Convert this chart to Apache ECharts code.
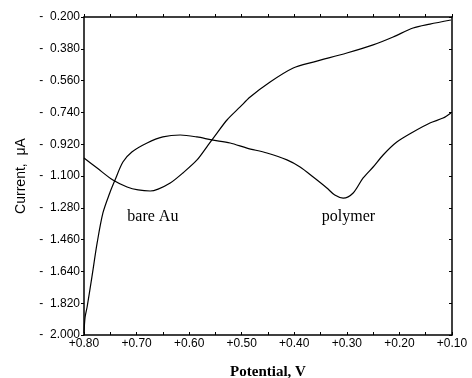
<!DOCTYPE html>
<html lang="en">
  <head>
    <meta charset="UTF-8" />
    <title>Current vs Potential</title>
    <style>
      html, body { margin: 0; padding: 0; background: #fff; }
    </style>
  </head>
  <body>
    <div id="main" style="width: 472px; height: 378px"></div>
    <script src="https://cdn.jsdelivr.net/npm/echarts@6/dist/echarts.min.js"></script>
    <script>
      // polymer trace (starts at -2.0 at +0.80 V, dip near +0.30 V)
      const polymerX = [0.800, 0.798, 0.794, 0.785, 0.775, 0.764, 0.751, 0.741, 0.726, 0.709, 0.680, 0.650, 0.617,
        0.585, 0.557, 0.522, 0.490, 0.452, 0.414, 0.389, 0.364, 0.338, 0.323, 0.307, 0.288, 0.269, 0.250,
        0.231, 0.205, 0.174, 0.142, 0.117, 0.102];
      const polymerY = [-1.99, -1.90, -1.84, -1.672, -1.479, -1.309, -1.196, -1.123, -1.021, -0.964, -0.913, -0.879, -0.868,
        -0.879, -0.896, -0.913, -0.942, -0.970, -1.009, -1.049, -1.106, -1.168, -1.208, -1.225, -1.196, -1.111, -1.049,
        -0.981, -0.908, -0.851, -0.800, -0.772, -0.743];

      // bare Au trace (dip near +0.67 V)
      const bareX = [0.800, 0.775, 0.745, 0.718, 0.697, 0.674, 0.659, 0.636, 0.612, 0.585, 0.564, 0.547, 0.528,
        0.503, 0.484, 0.446, 0.402, 0.364, 0.300, 0.250, 0.212, 0.174, 0.142, 0.102];
      const bareY = [-0.998, -1.055, -1.123, -1.162, -1.179, -1.185, -1.174, -1.140, -1.083, -1.009, -0.925, -0.857, -0.783,
        -0.709, -0.653, -0.568, -0.489, -0.455, -0.404, -0.358, -0.313, -0.262, -0.240, -0.217];

      const yTicks = [-2.0, -1.82, -1.64, -1.46, -1.28, -1.1, -0.92, -0.74, -0.56, -0.38, -0.2];
      const labelPos = { bare: [0.669, -1.33], polymer: [0.297, -1.33] };

      const zip = (xs, ys) => xs.map((x, i) => [x, ys[i]]);

      var chart = echarts.init(document.getElementById("main"));
      const axisLine = { show: true, lineStyle: { color: "#000", width: 1.5 } };
      const tickFont = { color: "#000", fontFamily: "Liberation Sans", fontSize: 12 };
      const noteStyle = { show: true, color: "#000", fontFamily: "Liberation Serif", fontSize: 16 };

      chart.setOption({
        animation: false,
        grid: { left: 84, right: 20, top: 17, bottom: 43, containLabel: false, outerBoundsMode: "none" },
        xAxis: [
          {
            type: "value",
            min: 0.1,
            max: 0.8,
            interval: 0.1,
            inverse: true,
            name: "Potential, V",
            nameLocation: "middle",
            nameGap: 30,
            nameTextStyle: { fontFamily: "Liberation Serif", fontWeight: "bold", fontSize: 15, color: "#000" },
            axisLine: axisLine,
            axisTick: { show: true, inside: true, length: 3, lineStyle: { color: "#000" } },
            minorTick: { show: true, splitNumber: 2, length: 3, lineStyle: { color: "#000" } },
            axisLabel: Object.assign({ margin: 3, formatter: (v) => "+" + v.toFixed(2) }, tickFont),
            splitLine: { show: false },
          },
          {
            type: "value",
            position: "top",
            min: 0.1,
            max: 0.8,
            interval: 0.05,
            inverse: true,
            axisLine: axisLine,
            axisTick: { show: true, inside: false, length: 3, lineStyle: { color: "#000" } },
            axisLabel: { show: false },
            splitLine: { show: false },
          },
        ],
        yAxis: [
          {
            type: "value",
            min: -2.0,
            max: -0.2,
            name: "Current,  μA",
            nameLocation: "middle",
            nameGap: 54,
            nameTextStyle: { fontFamily: "Liberation Sans", fontSize: 14, color: "#000" },
            axisLine: axisLine,
            axisTick: { show: true, length: 3, customValues: yTicks, lineStyle: { color: "#000" } },
            axisLabel: Object.assign({ margin: 4, customValues: yTicks, formatter: (v) => "-  " + Math.abs(v).toFixed(3) }, tickFont),
            splitLine: { show: false },
          },
          {
            type: "value",
            position: "right",
            min: -2.0,
            max: -0.2,
            axisLine: axisLine,
            axisTick: { show: true, inside: true, length: 3, customValues: yTicks, lineStyle: { color: "#000" } },
            axisLabel: { show: false },
            splitLine: { show: false },
          },
        ],
        series: [
          {
            name: "polymer",
            type: "line",
            data: zip(polymerX, polymerY),
            showSymbol: false,
            smooth: 0.3,
            lineStyle: { color: "#000", width: 1.2 },
            markPoint: {
              symbol: "circle",
              symbolSize: 0,
              label: Object.assign({ formatter: "polymer" }, noteStyle),
              data: [{ coord: labelPos.polymer }],
            },
          },
          {
            name: "bare Au",
            type: "line",
            data: zip(bareX, bareY),
            showSymbol: false,
            smooth: 0.3,
            lineStyle: { color: "#000", width: 1.2 },
            markPoint: {
              symbol: "circle",
              symbolSize: 0,
              label: Object.assign({ formatter: "bare Au" }, noteStyle),
              data: [{ coord: labelPos.bare }],
            },
          },
        ],
      });
    </script>
  </body>
</html>
